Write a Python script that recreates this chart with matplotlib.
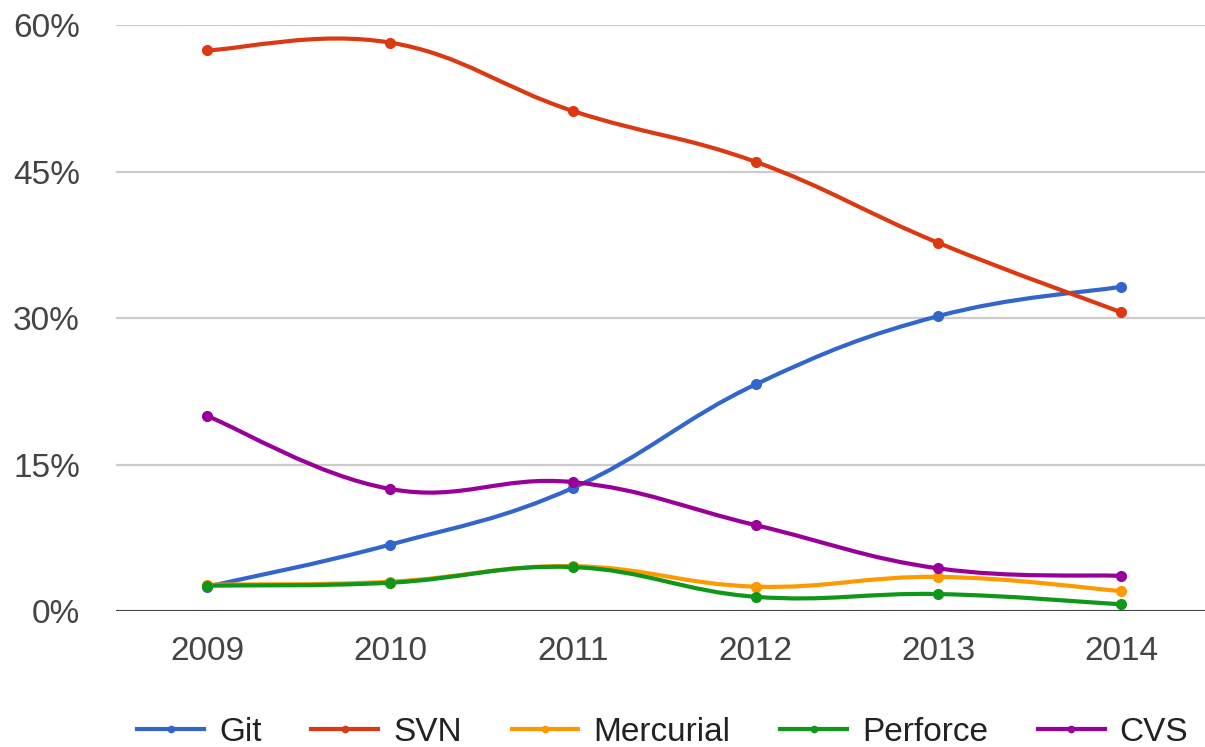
import matplotlib
matplotlib.use("Agg")
import matplotlib.pyplot as plt
from matplotlib.path import Path
from matplotlib.patches import PathPatch
import numpy as np

years = [2009, 2010, 2011, 2012, 2013, 2014]
git = [2.5, 6.8, 12.6, 23.2, 30.2, 33.2]
svn = [57.4, 58.2, 51.2, 46.0, 37.7, 30.6]
mercurial = [2.7, 3.0, 4.6, 2.5, 3.5, 2.05]
perforce = [2.6, 2.9, 4.5, 1.46, 1.74, 0.69]
cvs = [19.96, 12.5, 13.2, 8.8, 4.37, 3.6]

names = ["Git", "SVN", "Mercurial", "Perforce", "CVS"]
series = [git, svn, mercurial, perforce, cvs]
colours = ["#3366cc", "#dc3912", "#ff9900", "#109618", "#990099"]
yticks = [0, 15, 30, 45, 60]

plt.rcParams['font.family'] = ['Liberation Sans', 'DejaVu Sans']


def smooth_path(xs, ys, k=0.2):
    # cubic bezier through the points, google-charts style smoothing
    xs = np.asarray(xs, float)
    ys = np.asarray(ys, float)
    n = len(xs)
    verts = [(xs[0], ys[0])]
    codes = [Path.MOVETO]
    for i in range(n - 1):
        p0 = i - 1 if i > 0 else i
        p3 = i + 2 if i + 2 < n else i + 1
        c1 = (xs[i] + k * (xs[i + 1] - xs[p0]), ys[i] + k * (ys[i + 1] - ys[p0]))
        c2 = (xs[i + 1] - k * (xs[p3] - xs[i]), ys[i + 1] - k * (ys[p3] - ys[i]))
        verts += [c1, c2, (xs[i + 1], ys[i + 1])]
        codes += [Path.CURVE4] * 3
    return Path(verts, codes)


fig = plt.figure(figsize=(12.05, 7.47), dpi=100)
ax = fig.add_axes([0.0963, 0.182, 0.9037, 0.7845])

for name, vals, c in zip(names, series, colours):
    patch = PathPatch(smooth_path(years, vals), facecolor="none", edgecolor=c,
                      linewidth=3.0, capstyle="round", joinstyle="round")
    ax.add_patch(patch)
    ax.plot(years, vals, "o", color=c, markersize=7, clip_on=False)
    # legend proxy
    ax.plot([], [], "-o", color=c, linewidth=3.0, markersize=4.5, label=name)

ax.set_xlim(2008.5, 2014.46)
ax.set_ylim(0, 60)
ax.set_xticks(years)
ax.set_xticklabels([str(y) for y in years])
ax.set_yticks(yticks)
ax.set_yticklabels([f"{t}%" for t in yticks])
ax.grid(axis="y", color="#cccccc", linewidth=1.6)
ax.set_axisbelow(True)
ax.axhline(0, color="#444444", linewidth=2.2, zorder=1)
for s in ax.spines.values():
    s.set_visible(False)
ax.tick_params(length=0, labelsize=24, colors="#444444")
ax.tick_params(axis="y", pad=26)
ax.tick_params(axis="x", pad=18)

fig.legend(loc="center", ncol=5, frameon=False, fontsize=24,
           handlelength=2.0, columnspacing=1.5, handletextpad=0.45,
           bbox_to_anchor=(0.550, 0.02), labelcolor="#222222")

fig.savefig("out.png", dpi=100)
